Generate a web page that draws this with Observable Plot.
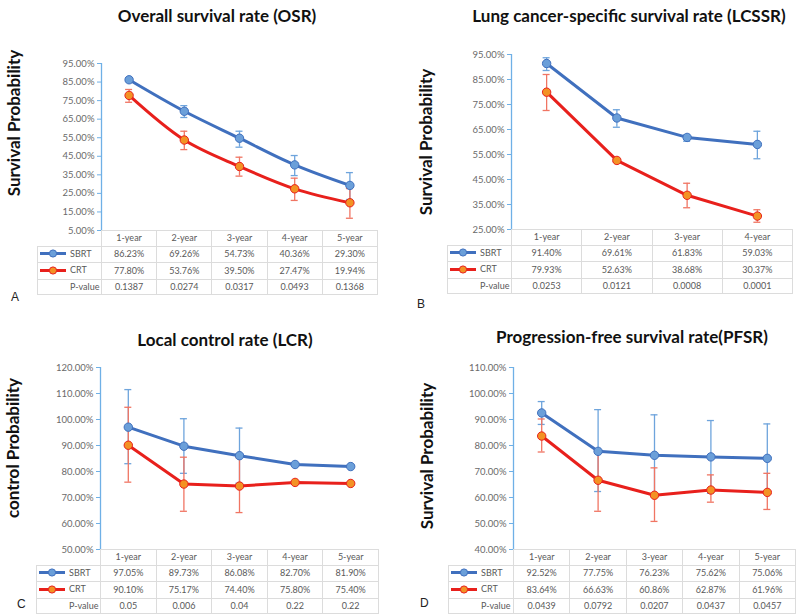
<!DOCTYPE html>
<html><head><meta charset="utf-8">
<script src="https://cdn.jsdelivr.net/npm/d3@7"></script>
<script src="https://cdn.jsdelivr.net/npm/@observablehq/plot@0.6"></script>
<style>
html,body{margin:0;padding:0;background:#fff;}
body{width:800px;height:616px;position:relative;overflow:hidden;font-family:Lato,"Open Sans",sans-serif;}
.title{position:absolute;font-weight:bold;font-size:17px;color:#111;white-space:nowrap;transform:translate(-50%,-50%);}
.ylab{position:absolute;font-weight:bold;font-size:17px;color:#111;white-space:nowrap;transform:translate(-50%,-50%) rotate(-90deg);}
.letter{position:absolute;font-family:"Liberation Sans",Arial,sans-serif;font-size:12px;color:#222;}
table.dt{position:absolute;border-collapse:collapse;table-layout:fixed;font-size:9px;color:#595959;}
table.dt td{border:1px solid #dcdcdc;text-align:center;padding:0;height:14.6px;line-height:14px;white-space:nowrap;overflow:visible;}
table.dt td.lab{text-align:left;}
table.dt td.blank{border:none;}
.key{display:inline-flex;align-items:center;}
</style></head><body>
<script>
// ---------- data ----------
const years5 = ["1-year", "2-year", "3-year", "4-year", "5-year"];
const years4 = ["1-year", "2-year", "3-year", "4-year"];

// A: Overall survival rate
const osrSBRT   = [86.23, 69.26, 54.73, 40.36, 29.30];
const osrCRT    = [77.80, 53.76, 39.50, 27.47, 19.94];
const osrP      = ["0.1387", "0.0274", "0.0317", "0.0493", "0.1368"];
const osrSBRTlo = [85.2, 65.9, 49.9, 34.6, 21.7];
const osrSBRThi = [87.3, 72.3, 58.5, 45.4, 36.2];
const osrCRTlo  = [74.1, 48.6, 34.3, 21.2, 11.6];
const osrCRThi  = [81.0, 58.5, 44.5, 33.2, 27.6];

// B: Lung cancer-specific survival rate
const lcssrSBRT   = [91.40, 69.61, 61.83, 59.03];
const lcssrCRT    = [79.93, 52.63, 38.68, 30.37];
const lcssrP      = ["0.0253", "0.0121", "0.0008", "0.0001"];
const lcssrSBRTlo = [88.6, 65.9, 60.3, 53.3];
const lcssrSBRThi = [93.7, 72.9, 62.9, 64.3];
const lcssrCRTlo  = [72.6, 52.1, 33.7, 27.9];
const lcssrCRThi  = [87.0, 53.1, 43.5, 32.9];

// C: Local control rate
const lcrSBRT   = [97.05, 89.73, 86.08, 82.70, 81.90];
const lcrCRT    = [90.10, 75.17, 74.40, 75.80, 75.40];
const lcrP      = ["0.05", "0.006", "0.04", "0.22", "0.22"];
const lcrSBRTlo = [83.0, 79.3, 75.5, 82.70, 81.90];
const lcrSBRThi = [111.5, 100.3, 96.7, 82.70, 81.90];
const lcrCRTlo  = [75.9, 64.7, 64.2, 75.80, 75.40];
const lcrCRThi  = [104.7, 85.5, 85.3, 75.80, 75.40];

// D: Progression-free survival rate
const pfsrSBRT   = [92.52, 77.75, 76.23, 75.62, 75.06];
const pfsrCRT    = [83.64, 66.63, 60.86, 62.87, 61.96];
const pfsrP      = ["0.0439", "0.0792", "0.0207", "0.0437", "0.0457"];
const pfsrSBRTlo = [88.1, 62.3, 60.7, 61.6, 61.8];
const pfsrSBRThi = [96.9, 93.8, 91.8, 89.6, 88.3];
const pfsrCRTlo  = [77.5, 54.7, 50.8, 58.2, 55.4];
const pfsrCRThi  = [90.2, 78.5, 71.4, 68.7, 69.3];

// ---------- styles ----------
const axisBlue = "#6fb0e6", tickGrey = "#6a6a6a";
const sbrtLine = "#4070be", sbrtFill = "#6b9fd9", sbrtBar = "#6ea4dc";
const crtLine = "#e8201c", crtFill = "#f39224", crtBar = "#f07563";

function add(el){ document.body.appendChild(el); return el; }
function div(cls, text, x, y){ const d = document.createElement("div"); d.className = cls; d.textContent = text; d.style.left = x + "px"; d.style.top = y + "px"; return add(d); }

function keySvg(line, fill){
  const ns = "http://www.w3.org/2000/svg";
  const s = document.createElementNS(ns, "svg");
  s.setAttribute("width", 26); s.setAttribute("height", 9);
  s.style.display = "block";
  const l = document.createElementNS(ns, "line");
  l.setAttribute("x1", 0); l.setAttribute("x2", 26); l.setAttribute("y1", 4.5); l.setAttribute("y2", 4.5);
  l.setAttribute("stroke", line); l.setAttribute("stroke-width", 3);
  const c = document.createElementNS(ns, "circle");
  c.setAttribute("cx", 13); c.setAttribute("cy", 4.5); c.setAttribute("r", 3.6);
  c.setAttribute("fill", fill); c.setAttribute("stroke", line); c.setAttribute("stroke-width", 1);
  s.appendChild(l); s.appendChild(c);
  return s;
}

function panel(cfg){
  const n = cfg.cats.length;
  const w = cfg.rightX - cfg.axisX, h = cfg.yBot - cfg.yTop;
  const mL = 60, mR = 6, mT = 8, mB = 4;
  const unit = w / n;
  const S = cfg.cats.map((c, i) => ({x: i + 0.5, v: cfg.sbrt[i], lo: cfg.sbrtLo[i], hi: cfg.sbrtHi[i]}));
  const C = cfg.cats.map((c, i) => ({x: i + 0.5, v: cfg.crt[i], lo: cfg.crtLo[i], hi: cfg.crtHi[i]}));
  const capU = 3.5 / unit;
  const bars = (data, color) => {
    const e = data.filter(d => d.hi > d.lo);
    return [
      Plot.ruleX(e, {x: "x", y1: "lo", y2: "hi", stroke: color, strokeWidth: 1.3}),
      Plot.ruleY(e, {y: "hi", x1: d => d.x - capU, x2: d => d.x + capU, stroke: color, strokeWidth: 1.3}),
      Plot.ruleY(e, {y: "lo", x1: d => d.x - capU, x2: d => d.x + capU, stroke: color, strokeWidth: 1.3})
    ];
  };
  const ticks = d3.range(cfg.domain[0], cfg.domain[1] + 0.01, 10);
  const svg = Plot.plot({
    width: mL + w + mR, height: mT + h + mB,
    marginLeft: mL, marginRight: mR, marginTop: mT, marginBottom: mB,
    style: {background: "transparent", overflow: "visible", fontFamily: "Lato, sans-serif", fontSize: "9.5px"},
    x: {domain: [0, n], axis: null},
    y: {domain: cfg.domain, range: [mT + h, mT], axis: null},
    marks: [
      Plot.axisY({ticks, tickFormat: d => d.toFixed(2) + "%", tickSize: 4, tickPadding: 3, stroke: axisBlue, fill: tickGrey, label: null}),
      Plot.ruleX([0], {y1: cfg.domain[0], y2: cfg.domain[1], stroke: axisBlue, strokeWidth: 1.3}),
      ...bars(S, sbrtBar),
      ...bars(C, crtBar),
      Plot.line(S, {x: "x", y: "v", stroke: sbrtLine, strokeWidth: 3, curve: cfg.curve}),
      Plot.line(C, {x: "x", y: "v", stroke: crtLine, strokeWidth: 3, curve: cfg.curve}),
      Plot.dot(S, {x: "x", y: "v", r: 4.2, fill: sbrtFill, stroke: sbrtLine, strokeWidth: 1}),
      Plot.dot(C, {x: "x", y: "v", r: 4.2, fill: crtFill, stroke: crtLine, strokeWidth: 1})
    ]
  });
  svg.style.position = "absolute";
  svg.style.left = (cfg.axisX - mL) + "px";
  svg.style.top = (cfg.yTop - mT) + "px";
  add(svg);

  // data table under the plot
  const t = document.createElement("table");
  t.className = "dt";
  t.style.left = cfg.labelLeft + "px";
  t.style.top = cfg.yBot + "px";
  const labW = cfg.axisX - cfg.labelLeft;
  t.style.width = (labW + w) + "px";
  const cg = document.createElement("colgroup");
  const c0 = document.createElement("col"); c0.style.width = labW + "px"; cg.appendChild(c0);
  cfg.cats.forEach(() => { const c = document.createElement("col"); c.style.width = unit + "px"; cg.appendChild(c); });
  t.appendChild(cg);
  const mkRow = (label, vals, key) => {
    const tr = document.createElement("tr");
    const td0 = document.createElement("td");
    if (label === null) td0.className = "blank";
    else {
      td0.className = "lab";
      const wrap = document.createElement("div");
      wrap.className = "key";
      wrap.style.paddingLeft = "2px";
      if (key) { wrap.appendChild(keySvg(key[0], key[1])); }
      const sp = document.createElement("span");
      sp.textContent = label;
      sp.style.marginLeft = key ? "4px" : "30px";
      wrap.appendChild(sp);
      td0.appendChild(wrap);
    }
    tr.appendChild(td0);
    vals.forEach(v => { const td = document.createElement("td"); td.textContent = v; tr.appendChild(td); });
    t.appendChild(tr);
  };
  mkRow(null, cfg.cats);
  mkRow("SBRT", cfg.sbrt.map(v => v.toFixed(2) + "%"), [sbrtLine, sbrtFill]);
  mkRow("CRT", cfg.crt.map(v => v.toFixed(2) + "%"), [crtLine, crtFill]);
  mkRow("P-value", cfg.p, null);
  add(t);

  div("title", cfg.title, cfg.titleX, cfg.titleY);
  div("ylab", cfg.ylab, cfg.ylabX, cfg.ylabY);
  div("letter", cfg.letter, cfg.letterX, cfg.letterY);
}

panel({title: "Overall survival rate (OSR)", titleX: 217, titleY: 15,
  ylab: "Survival Probability", ylabX: 13, ylabY: 123,
  letter: "A", letterX: 11, letterY: 290,
  cats: years5, sbrt: osrSBRT, crt: osrCRT, p: osrP,
  sbrtLo: osrSBRTlo, sbrtHi: osrSBRThi, crtLo: osrCRTlo, crtHi: osrCRThi,
  axisX: 101, rightX: 377, yTop: 63, yBot: 230, domain: [5, 95], labelLeft: 37, curve: "catmull-rom"});

panel({title: "Lung cancer-specific survival rate (LCSSR)", titleX: 629, titleY: 15,
  ylab: "Survival Probability", ylabX: 425, ylabY: 142,
  letter: "B", letterX: 417, letterY: 297,
  cats: years4, sbrt: lcssrSBRT, crt: lcssrCRT, p: lcssrP,
  sbrtLo: lcssrSBRTlo, sbrtHi: lcssrSBRThi, crtLo: lcssrCRTlo, crtHi: lcssrCRThi,
  axisX: 511, rightX: 792, yTop: 54, yBot: 229, domain: [25, 95], labelLeft: 447, curve: "linear"});

panel({title: "Local control rate (LCR)", titleX: 225, titleY: 339,
  ylab: "control Probability", ylabX: 12, ylabY: 448,
  letter: "C", letterX: 17, letterY: 597,
  cats: years5, sbrt: lcrSBRT, crt: lcrCRT, p: lcrP,
  sbrtLo: lcrSBRTlo, sbrtHi: lcrSBRThi, crtLo: lcrCRTlo, crtHi: lcrCRThi,
  axisX: 100, rightX: 378, yTop: 367, yBot: 549, domain: [50, 120], labelLeft: 36, curve: "linear"});

panel({title: "Progression-free survival rate(PFSR)", titleX: 632, titleY: 336,
  ylab: "Survival Probability", ylabX: 426, ylabY: 456,
  letter: "D", letterX: 420, letterY: 596,
  cats: years5, sbrt: pfsrSBRT, crt: pfsrCRT, p: pfsrP,
  sbrtLo: pfsrSBRTlo, sbrtHi: pfsrSBRThi, crtLo: pfsrCRTlo, crtHi: pfsrCRThi,
  axisX: 513, rightX: 795, yTop: 367, yBot: 549, domain: [40, 110], labelLeft: 448, curve: "linear"});
</script>
</body></html>
